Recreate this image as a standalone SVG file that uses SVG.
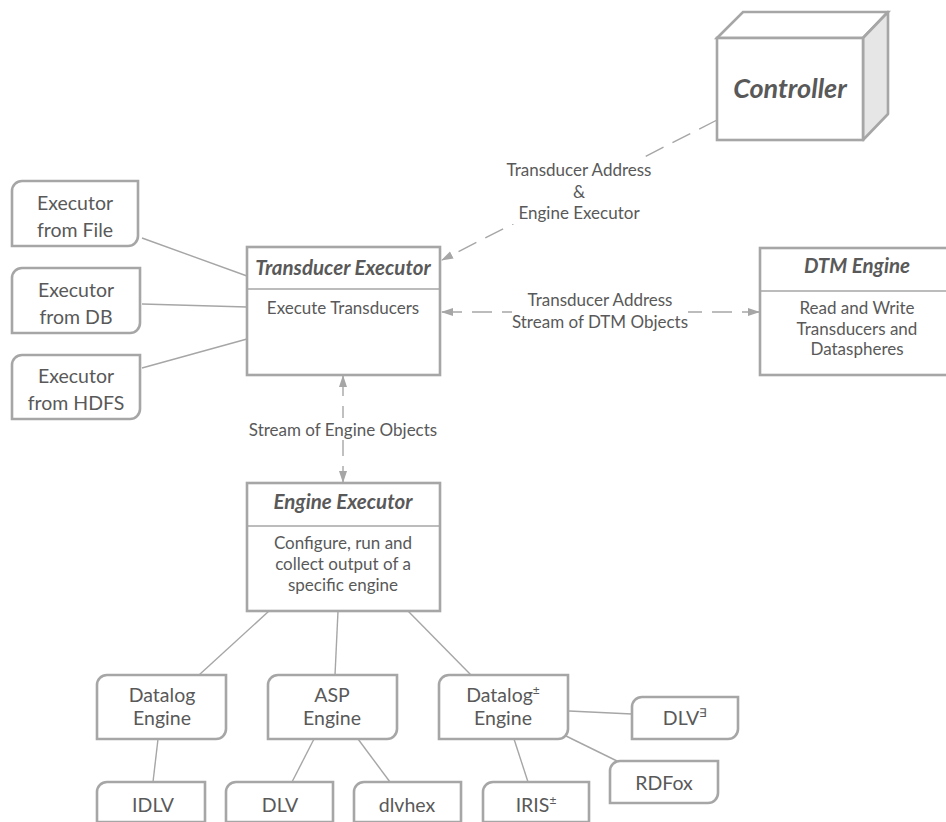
<svg xmlns="http://www.w3.org/2000/svg" width="946" height="822" viewBox="0 0 946 822">
  <defs>
    <marker id="arrow" viewBox="0 0 12 10" refX="11" refY="5" markerWidth="12" markerHeight="10" markerUnits="userSpaceOnUse" orient="auto-start-reverse">
      <path d="M0,1 L12,5 L0,9 Z" fill="#a6a6a6"/>
    </marker>
  </defs>
  <style>
    text { font-family: Lato, "Open Sans", "Liberation Sans", sans-serif; font-size: 17px; fill: #595959; text-anchor: middle; }
    .title { font-size: 20.5px; font-weight: bold; font-style: italic; }
    .big { font-size: 27px; font-weight: bold; font-style: italic; }
    .node { font-size: 19.5px; }
    .sup { font-size: 12px; }
    .box { fill: #ffffff; stroke: #a6a6a6; stroke-width: 2.6; }
    .side { fill: #e6e6e6; stroke: #a6a6a6; stroke-width: 2.6; stroke-linejoin: round; }
    .div { stroke: #a6a6a6; stroke-width: 1.3; }
    .link { stroke: #a6a6a6; stroke-width: 1.4; fill: none; }
    .dash { stroke: #a6a6a6; stroke-width: 1.4; fill: none; stroke-dasharray: 20 10; }
    .bg { fill: #ffffff; }
  </style>

  <!-- connectors -->
  <g id="connectors">
    <!-- input executors to transducer executor -->
    <line class="link" x1="142" y1="238" x2="247" y2="276"/>
    <line class="link" x1="142" y1="304" x2="247" y2="307"/>
    <line class="link" x1="142" y1="368" x2="247" y2="339"/>
    <!-- controller to transducer executor -->
    <line class="dash" x1="717" y1="120" x2="442" y2="260" marker-end="url(#arrow)"/>
    <rect class="bg" x="500" y="158" width="158" height="66"/>
    <text x="579" y="176">Transducer Address</text>
    <text x="579" y="198">&amp;</text>
    <text x="579" y="219">Engine Executor</text>
    <!-- transducer executor <-> DTM engine -->
    <line class="dash" x1="442" y1="312" x2="759" y2="312" marker-start="url(#arrow)" marker-end="url(#arrow)"/>
    <rect class="bg" x="512" y="290" width="176" height="42"/>
    <text x="600" y="306">Transducer Address</text>
    <text x="600" y="328">Stream of DTM Objects</text>
    <!-- transducer executor <-> engine executor -->
    <line class="dash" x1="343" y1="376" x2="343" y2="482" marker-start="url(#arrow)" marker-end="url(#arrow)"/>
    <rect class="bg" x="249" y="418" width="188" height="22"/>
    <text x="343" y="436">Stream of Engine Objects</text>
    <!-- engine executor to engines -->
    <line class="link" x1="269" y1="611" x2="199" y2="675"/>
    <line class="link" x1="338" y1="611" x2="335" y2="675"/>
    <line class="link" x1="408" y1="611" x2="471" y2="675"/>
    <!-- engines to implementations -->
    <line class="link" x1="158" y1="739" x2="153" y2="782"/>
    <line class="link" x1="314" y1="739" x2="292" y2="782"/>
    <line class="link" x1="358" y1="739" x2="390" y2="782"/>
    <line class="link" x1="514" y1="739" x2="528" y2="782"/>
    <line class="link" x1="569" y1="711" x2="632" y2="714"/>
    <line class="link" x1="566" y1="736" x2="617" y2="761"/>
  </g>

  <!-- controller (3D box) -->
  <g id="controller">
    <path class="box" d="M717,38 L743,12 L888,12 L863,38 Z"/>
    <path class="side" d="M863,38 L888,12 L888,114 L863,140 Z"/>
    <rect class="box" x="717" y="38" width="146" height="102"/>
    <text class="big" x="790" y="98">Controller</text>
  </g>

  <!-- executor sources -->
  <g id="exec-file">
    <path class="box" d="M22,181 H138 V236 A10,10 0 0 1 128,246 H12 V191 A10,10 0 0 1 22,181 Z"/>
    <text class="node" x="75" y="210">Executor</text>
    <text class="node" x="75" y="237">from File</text>
  </g>
  <g id="exec-db">
    <path class="box" d="M22,268 H140 V323 A10,10 0 0 1 130,333 H12 V278 A10,10 0 0 1 22,268 Z"/>
    <text class="node" x="76" y="297">Executor</text>
    <text class="node" x="76" y="324">from DB</text>
  </g>
  <g id="exec-hdfs">
    <path class="box" d="M22,355 H140 V409 A10,10 0 0 1 130,419 H12 V365 A10,10 0 0 1 22,355 Z"/>
    <text class="node" x="76" y="383">Executor</text>
    <text class="node" x="76" y="410">from HDFS</text>
  </g>

  <!-- transducer executor -->
  <g id="transducer-executor">
    <rect class="box" x="247" y="247" width="193" height="128"/>
    <line class="div" x1="247" y1="289" x2="440" y2="289"/>
    <text class="title" x="343" y="275">Transducer Executor</text>
    <text x="343" y="314">Execute Transducers</text>
  </g>

  <!-- DTM engine -->
  <g id="dtm-engine">
    <rect class="box" x="760" y="248" width="194" height="127"/>
    <line class="div" x1="760" y1="291" x2="954" y2="291"/>
    <text class="title" x="857" y="273">DTM Engine</text>
    <text x="857" y="314">Read and Write</text>
    <text x="857" y="335">Transducers and</text>
    <text x="857" y="355">Dataspheres</text>
  </g>

  <!-- engine executor -->
  <g id="engine-executor">
    <rect class="box" x="247" y="483" width="193" height="128"/>
    <line class="div" x1="247" y1="526" x2="440" y2="526"/>
    <text class="title" x="343" y="509">Engine Executor</text>
    <text x="343" y="549">Configure, run and</text>
    <text x="343" y="570">collect output of a</text>
    <text x="343" y="591">specific engine</text>
  </g>

  <!-- engines -->
  <g id="datalog-engine">
    <path class="box" d="M107,675 H226 V729 A10,10 0 0 1 216,739 H97 V685 A10,10 0 0 1 107,675 Z"/>
    <text class="node" x="162" y="702">Datalog</text>
    <text class="node" x="162" y="725">Engine</text>
  </g>
  <g id="asp-engine">
    <path class="box" d="M278,675 H397 V729 A10,10 0 0 1 387,739 H268 V685 A10,10 0 0 1 278,675 Z"/>
    <text class="node" x="332" y="702">ASP</text>
    <text class="node" x="332" y="725">Engine</text>
  </g>
  <g id="datalog-pm-engine">
    <path class="box" d="M449,675 H568 V729 A10,10 0 0 1 558,739 H439 V685 A10,10 0 0 1 449,675 Z"/>
    <text class="node" x="503" y="702">Datalog<tspan class="sup" dy="-8">±</tspan></text>
    <text class="node" x="503" y="725">Engine</text>
  </g>

  <!-- engine implementations -->
  <g id="dlv-exists">
    <path class="box" d="M642,697 H738 V729 A10,10 0 0 1 728,739 H632 V707 A10,10 0 0 1 642,697 Z"/>
    <text class="node" x="685" y="725">DLV<tspan class="sup" dy="-8">∃</tspan></text>
  </g>
  <g id="rdfox">
    <path class="box" d="M620,761 H718 V793 A10,10 0 0 1 708,803 H610 V771 A10,10 0 0 1 620,761 Z"/>
    <text class="node" x="664" y="790">RDFox</text>
  </g>
  <g id="idlv">
    <path class="box" d="M107,782 H205 V822 H97 V792 A10,10 0 0 1 107,782 Z"/>
    <text class="node" x="153" y="812">IDLV</text>
  </g>
  <g id="dlv">
    <path class="box" d="M236,782 H333 V822 H226 V792 A10,10 0 0 1 236,782 Z"/>
    <text class="node" x="280" y="812">DLV</text>
  </g>
  <g id="dlvhex">
    <path class="box" d="M364,782 H461 V822 H354 V792 A10,10 0 0 1 364,782 Z"/>
    <text class="node" x="407" y="812">dlvhex</text>
  </g>
  <g id="iris">
    <path class="box" d="M493,782 H589 V822 H483 V792 A10,10 0 0 1 493,782 Z"/>
    <text class="node" x="536" y="812">IRIS<tspan class="sup" dy="-8">±</tspan></text>
  </g>
</svg>
